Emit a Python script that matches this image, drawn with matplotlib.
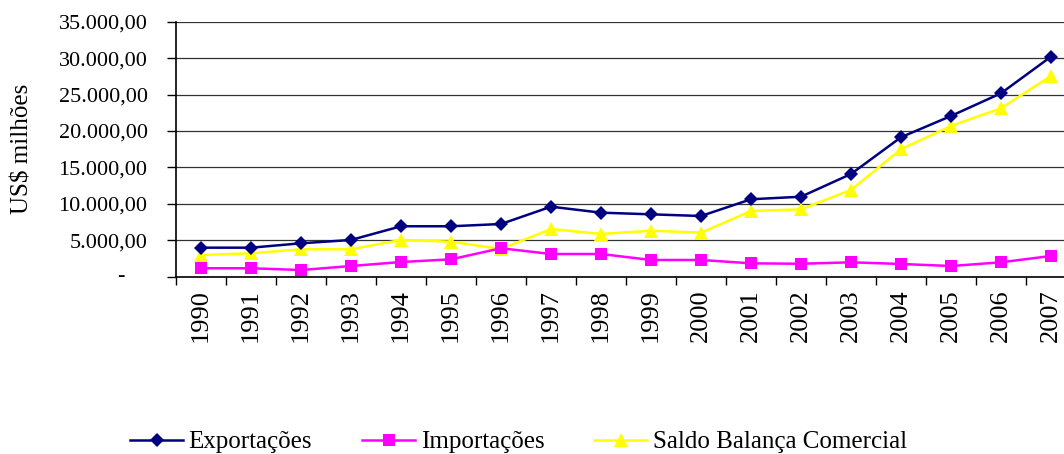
import numpy as np
import matplotlib
matplotlib.use('Agg')
import matplotlib.pyplot as plt
from matplotlib.ticker import FuncFormatter, MultipleLocator, FixedLocator

plt.rcParams['font.family'] = ['Liberation Serif', 'DejaVu Serif']

anos = [str(a) for a in range(1990, 2008)]
exportacoes = [3960, 3960, 4560, 5020, 6900, 6900, 7210, 9590, 8770, 8540,
               8310, 10610, 10960, 14080, 19130, 22050, 25170, 30200]
importacoes = [1130, 1130, 890, 1440, 1990, 2360, 3880, 3090, 3090, 2270,
               2270, 1810, 1750, 1950, 1720, 1440, 1950, 2820]
saldo = [2950, 3190, 3740, 3740, 5020, 4780, 3780, 6530, 5840, 6290,
         6020, 9000, 9230, 11890, 17480, 20680, 23110, 27550]

fig = plt.figure(figsize=(10.64, 4.54), dpi=100)
ax = fig.add_axes([176 / 1064, 177.5 / 454, 900 / 1064, 254.8 / 454])

x = np.arange(len(anos))
ax.plot(x, exportacoes, color='#000080', lw=1.8, marker='D', ms=7.5, mew=0,
        label='Exportações', zorder=5)
ax.plot(x, importacoes, color='#FF00FF', lw=1.8, marker='s', ms=8.5, mew=0,
        label='Importações', zorder=4)
ax.plot(x, saldo, color='#FFFF00', lw=1.8, marker='^', ms=10, mew=0,
        label='Saldo Balança Comercial', zorder=3)

ax.set_xlim(-0.5, len(anos) - 0.5)
ax.set_ylim(0, 35000)

# eixo y: formato brasileiro, zero mostrado como "-"
def fmt(v, pos):
    if v == 0:
        return ''
    return f'{v:,.2f}'.replace(',', 'X').replace('.', ',').replace('X', '.')

ax.yaxis.set_major_locator(MultipleLocator(5000))
ax.yaxis.set_major_formatter(FuncFormatter(fmt))
ax.tick_params(axis='y', labelsize=16, length=6.5, width=1, pad=14, direction='out')
ax.text(-0.057, 0, '-', transform=ax.get_yaxis_transform(), ha='right',
        va='center', fontsize=16)
ax.grid(axis='y', color='#333333', lw=0.9)
ax.set_axisbelow(True)

# eixo x: rótulos no centro, marcas nas divisões
ax.set_xticks(x)
ax.set_xticklabels(anos, rotation=90, fontsize=19)
ax.xaxis.set_minor_locator(FixedLocator(np.arange(-0.5, len(anos), 1)))
ax.tick_params(axis='x', which='major', length=0, pad=9)
ax.tick_params(axis='x', which='minor', length=5.5, width=1, direction='out')

ax.spines['top'].set_visible(False)
ax.spines['right'].set_visible(False)
ax.spines['left'].set_linewidth(1.2)
ax.spines['bottom'].set_linewidth(1.2)

ax.set_ylabel('US$ milhões', fontsize=18)
ax.yaxis.set_label_coords(-0.158, 0.5)

fig.legend(loc='center', bbox_to_anchor=(0.4873, 0.026), ncol=3, frameon=False,
           fontsize=18, handlelength=2.12, handletextpad=0.22, columnspacing=2.0,
           numpoints=1)

fig.savefig('out.png', dpi=100)
